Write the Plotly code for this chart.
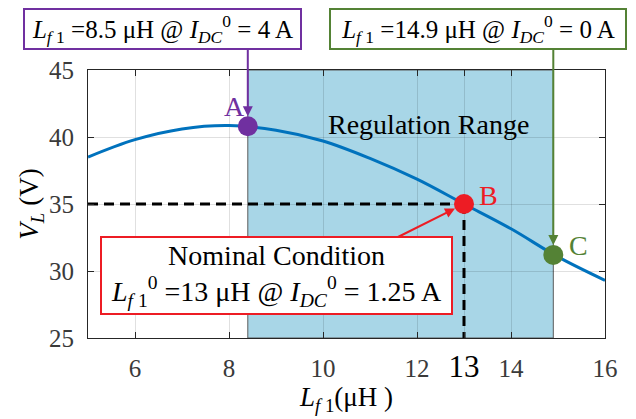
import plotly.graph_objects as go

# data
L_uH = [5, 6, 7, 8, 9, 10, 11, 12, 13, 14, 15, 16]
V_L = [38.5, 39.8, 40.6, 40.85, 40.5, 39.7, 38.4, 36.85, 35.0, 33.15, 31.05, 29.3]

point_names = ['A', 'B', 'C']
point_L = [8.4, 13, 14.9]
point_V = [40.8, 35, 31.2]
point_colors = ['#7030A0', '#ED1C24', '#548235']

range_L = [8.4, 14.9]
nominal_L = 13
nominal_V = 35

x_ticks = [6, 8, 10, 12, 13, 14, 16]
y_ticks = [25, 30, 35, 40, 45]

FONT = 'Liberation Serif'
BLUE = '#0072BD'

# plot area in pixels, used to place the boxes
L0, R0, T0, B0 = 88, 605, 70, 342


def px(xp):
    return (xp - L0) / (R0 - L0)


def py(yp):
    return (B0 - yp) / (B0 - T0)


fig = go.Figure()

# dashed guide lines at the nominal point
fig.add_trace(go.Scatter(x=[5, nominal_L], y=[nominal_V, nominal_V], mode='lines',
                         line=dict(color='black', width=3, dash='10px,6px'),
                         hoverinfo='skip', showlegend=False))
fig.add_trace(go.Scatter(x=[nominal_L, nominal_L], y=[nominal_V, 25], mode='lines',
                         line=dict(color='black', width=3, dash='10px,6px'),
                         hoverinfo='skip', showlegend=False))

# main curve
fig.add_trace(go.Scatter(x=L_uH, y=V_L, mode='lines',
                         line=dict(color=BLUE, width=3, shape='spline', smoothing=1.0),
                         showlegend=False))

# operating points
fig.add_trace(go.Scatter(x=point_L, y=point_V, mode='markers',
                         marker=dict(size=20, color=point_colors),
                         showlegend=False, cliponaxis=False))

# regulation range
fig.add_shape(type='rect', x0=range_L[0], x1=range_L[1], y0=25, y1=45,
              fillcolor='#A8D6E7', line=dict(color='#5a5a5a', width=1), layer='below')

tick_text = [str(t) for t in x_ticks]
tick_text[x_ticks.index(13)] = '<span style="font-size:31px;color:black">13</span>'

axis_common = dict(showline=True, linecolor='#262626', linewidth=1, mirror='ticks',
                   ticks='inside', ticklen=6, tickcolor='#262626',
                   showgrid=True, gridcolor='rgba(0,0,0,0.12)', gridwidth=1,
                   zeroline=False, tickfont=dict(family=FONT, size=25, color='#3a3a3a'))

fig.update_xaxes(range=[5, 16], tickvals=x_ticks, ticktext=tick_text,
                 title=dict(text='<i>L</i><sub><i>f</i> 1</sub>(μH )',
                            font=dict(family=FONT, size=27, color='black'), standoff=4),
                 ticklabelstandoff=8, **axis_common)
fig.update_yaxes(range=[25, 45], tickvals=y_ticks,
                 title=dict(text='<i>V</i><sub><i>L</i></sub> (V)',
                            font=dict(family=FONT, size=27, color='black'), standoff=2),
                 ticklabelstandoff=8, **axis_common)

annots = []
# point letters
letter_pos = [(234, 107), (488, 197), (578, 248)]
for name, (lx, ly), col in zip(point_names, letter_pos, point_colors):
    annots.append(dict(x=px(lx), y=py(ly), xref='paper', yref='paper', text=name,
                       showarrow=False, xanchor='center', yanchor='middle',
                       font=dict(family=FONT, size=28, color=col)))
annots.append(dict(x=px(428), y=py(125), xref='paper', yref='paper', text='Regulation Range',
                   showarrow=False, xanchor='center', yanchor='middle',
                   font=dict(family=FONT, size=28, color='black')))

# arrows to the points
annots.append(dict(x=point_L[0], y=point_V[0], xref='x', yref='y', text='', showarrow=True,
                   ax=0, ay=-78, arrowcolor=point_colors[0], arrowwidth=2, arrowhead=2,
                   arrowsize=1, standoff=10))
annots.append(dict(x=point_L[2], y=point_V[2], xref='x', yref='y', text='', showarrow=True,
                   ax=0, ay=-209, arrowcolor=point_colors[2], arrowwidth=2, arrowhead=2,
                   arrowsize=1, standoff=10))
annots.append(dict(x=point_L[1], y=point_V[1], xref='x', yref='y', text='', showarrow=True,
                   ax=-68, ay=34, arrowcolor=point_colors[1], arrowwidth=2, arrowhead=2,
                   arrowsize=1, standoff=10))

# boxes
box_common = dict(xref='paper', yref='paper', showarrow=False, xanchor='center',
                  yanchor='middle', bgcolor='white', borderwidth=2, borderpad=0)
annots.append(dict(x=px(162.5), y=py(28),
                   text='<i>L</i><sub><i>f</i> 1</sub> =8.5 μH @ <i>I</i><sub><i>DC</i></sub><sup>0</sup> = 4 A',
                   font=dict(family=FONT, size=25, color='black'),
                   bordercolor=point_colors[0], width=275, height=38, **box_common))
annots.append(dict(x=px(478), y=py(28),
                   text='<i>L</i><sub><i>f</i> 1</sub> =14.9 μH @ <i>I</i><sub><i>DC</i></sub><sup>0</sup> = 0 A',
                   font=dict(family=FONT, size=25, color='black'),
                   bordercolor=point_colors[2], width=294, height=38, **box_common))
annots.append(dict(x=px(276.5), y=py(278.5),
                   text='Nominal Condition<br><i>L</i><sub><i>f</i> 1</sub><sup>0</sup> =13 μH @ <i>I</i><sub><i>DC</i></sub><sup>0</sup> = 1.25 A',
                   font=dict(family=FONT, size=28, color='black'),
                   bordercolor=point_colors[1], width=349, height=75, **box_common))

fig.update_layout(width=636, height=419, margin=dict(l=L0, r=636 - R0, t=T0, b=419 - B0),
                  plot_bgcolor='white', paper_bgcolor='white',
                  font=dict(family=FONT), annotations=annots)

# drop the default page margin so the figure sits at the window's corner
fig.write_html("out.html", config={'displayModeBar': False},
               post_script="document.body.style.margin='0';")
